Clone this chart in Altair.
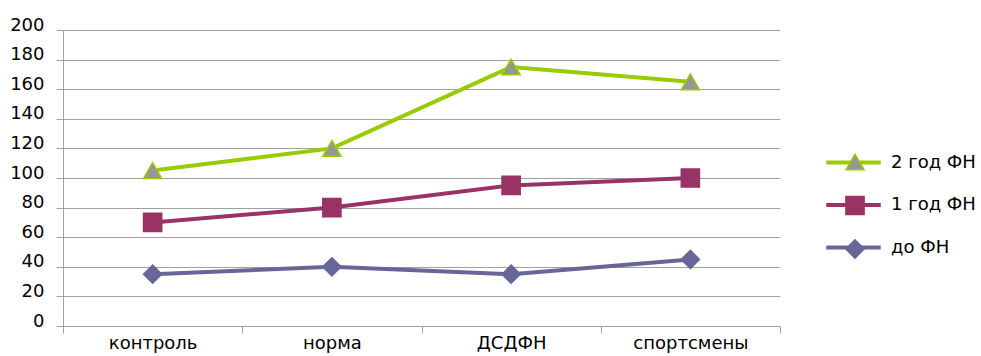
import altair as alt
import pandas as pd

# Categories along the x axis
categories = ["контроль", "норма", "ДСДФН", "спортсмены"]

# Series names in legend order
series_names = ["2 год ФН", "1 год ФН", "до ФН"]

# Series values per category
values_2y = [105, 120, 175, 165]
values_1y = [70, 80, 95, 100]
values_before = [35, 40, 35, 45]

# Y axis tick labels
y_ticks = [0, 20, 40, 60, 80, 100, 120, 140, 160, 180, 200]

line_colors = ["#99CC00", "#993366", "#666699"]
marker_fills = ["#969696", "#993366", "#666699"]
marker_shapes = ["triangle-up", "square", "diamond"]

FONT = "DejaVu Sans"
FONT_SIZE = 18
GRID = "#a0a0a0"

rows = []
for order, (name, vals) in enumerate(zip(series_names, [values_2y, values_1y, values_before])):
    for cat, v in zip(categories, vals):
        rows.append({"category": cat, "value": v, "series": name,
                     "series_mark": name, "order": order})
df = pd.DataFrame(rows)

by_order = alt.EncodingSortField("order", op="min")

x_enc = alt.X(
    "category:N",
    sort=categories,
    scale=alt.Scale(type="band", paddingInner=0, paddingOuter=0),
    axis=alt.Axis(title=None, labelAngle=0, tickBand="extent", grid=False,
                  tickSize=7, labelPadding=1, domainColor=GRID, tickColor=GRID),
)
y_enc = alt.Y(
    "value:Q",
    scale=alt.Scale(domain=[0, 200], nice=False, zero=True),
    axis=alt.Axis(title=None, values=y_ticks, grid=True, gridColor=GRID,
                  tickSize=7, labelPadding=12, labelBaseline="alphabetic",
                  domainColor=GRID, tickColor=GRID),
)

# Two stacked legends: one draws the line swatches with labels,
# the other draws the markers on top of them.
legend_y = 121
ROW_PAD = 21.5

line_legend = alt.Legend(
    title=None, orient="none", legendX=779, legendY=legend_y,
    symbolType="M-3,0H3", symbolStrokeWidth=4, symbolSize=330,
    labelFont=FONT, labelFontSize=FONT_SIZE, labelColor="black",
    labelOffset=26, rowPadding=ROW_PAD,
)
mark_legend = alt.Legend(
    title=None, orient="none", legendX=782, legendY=legend_y,
    symbolStrokeWidth=1.5, symbolSize=330,
    labelFont=FONT, labelFontSize=FONT_SIZE, labelExpr="''",
    labelOffset=33, rowPadding=ROW_PAD, clipHeight=22,
)

lines = alt.Chart(df).mark_line(strokeWidth=4).encode(
    x=x_enc,
    y=y_enc,
    color=alt.Color("series:N", sort=by_order,
                    scale=alt.Scale(range=line_colors), legend=line_legend),
    detail="series:N",
)

points = alt.Chart(df).mark_point(filled=True, size=330, strokeWidth=1.5, opacity=1).encode(
    x=x_enc,
    y=y_enc,
    shape=alt.Shape("series_mark:N", sort=by_order,
                    scale=alt.Scale(range=marker_shapes), legend=mark_legend),
    fill=alt.Fill("series_mark:N", sort=by_order,
                  scale=alt.Scale(range=marker_fills), legend=mark_legend),
    stroke=alt.Stroke("series_mark:N", sort=by_order,
                      scale=alt.Scale(range=line_colors), legend=mark_legend),
)

chart = (
    alt.layer(lines, points)
    .properties(
        width=717,
        height=296,
        autosize=alt.AutoSizeParams(type="none"),
        padding={"left": 63, "top": 30, "right": 201, "bottom": 30},
        background="white",
    )
    .configure_view(stroke=None)
    .configure_axis(labelFont=FONT, labelFontSize=FONT_SIZE, labelColor="black")
)

chart.save("out.html", embed_options={"renderer": "svg", "actions": False})
